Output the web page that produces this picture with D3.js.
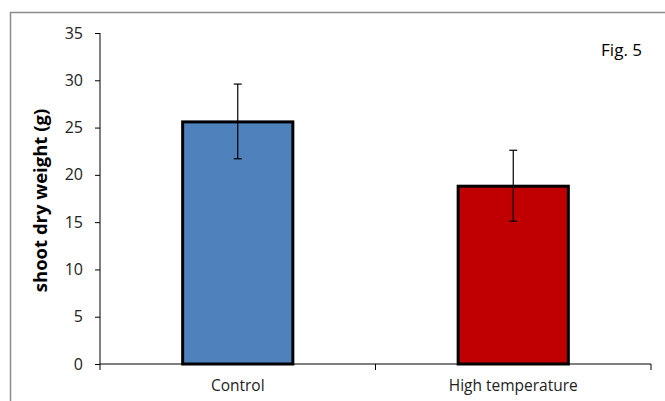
<!DOCTYPE html>
<html>
<head>
<meta charset="utf-8">
<script src="https://cdn.jsdelivr.net/npm/d3@7"></script>
<style>
  body { margin: 0; background: #fff; }
  svg { display: block; font-family: "Open Sans", sans-serif; }
</style>
</head>
<body>
<div id="chart"></div>
<script>
// data
const categories = ["Control", "High temperature"];
const means = [25.6, 18.8];
const errLow = [21.7, 15.1];
const errHigh = [29.6, 22.6];
const barColors = ["#4f81bd", "#c00000"];
const yTicks = [0, 5, 10, 15, 20, 25, 30, 35];

const width = 665, height = 401;
const margin = { top: 33, right: 14, bottom: 37, left: 100 };

const svg = d3.select("#chart")
    .append("svg")
    .attr("width", width)
    .attr("height", height);

// outer frame (right/bottom edges fall outside the crop)
svg.append("rect")
    .attr("x", 10.5).attr("y", 12.5)
    .attr("width", 700).attr("height", 500)
    .attr("fill", "none")
    .attr("stroke", "#8c8c8c")
    .attr("stroke-width", 1.5);

const x = d3.scaleBand()
    .domain(categories)
    .range([margin.left, width - margin.right])
    .padding(0);

const y = d3.scaleLinear()
    .domain([0, 35])
    .range([height - margin.bottom, margin.top]);

// y axis
const yAxis = svg.append("g")
    .attr("transform", `translate(${margin.left},0)`)
    .call(d3.axisLeft(y).tickValues(yTicks).tickSize(5).tickPadding(12));
yAxis.attr("font-family", null).attr("font-size", null);
yAxis.select(".domain").attr("stroke", "#000").attr("d", `M0,${y(35)}V${y(0)}`);
yAxis.selectAll(".tick line").attr("stroke", "#000");
yAxis.selectAll(".tick text")
    .attr("fill", "#222")
    .style("font-size", "16px");

// bars
const barW = x.bandwidth() * 0.4;
svg.append("g")
    .selectAll("rect")
    .data(categories)
    .enter().append("rect")
    .attr("x", d => x(d) + (x.bandwidth() - barW) / 2)
    .attr("y", (d, i) => y(means[i]))
    .attr("width", barW)
    .attr("height", (d, i) => y(0) - y(means[i]))
    .attr("fill", (d, i) => barColors[i])
    .attr("stroke", "#000")
    .attr("stroke-width", 3);

// x axis
const xAxis = svg.append("g")
    .attr("transform", `translate(0,${y(0)})`);
xAxis.append("line")
    .attr("x1", margin.left).attr("x2", width - margin.right)
    .attr("stroke", "#000");
const xBounds = [margin.left, ...categories.map(c => x(c) + x.bandwidth())];
xAxis.selectAll(".xtick")
    .data(xBounds)
    .enter().append("line")
    .attr("x1", d => d).attr("x2", d => d)
    .attr("y1", 0).attr("y2", 6)
    .attr("stroke", "#000");
xAxis.selectAll(".xlabel")
    .data(categories)
    .enter().append("text")
    .attr("x", d => x(d) + x.bandwidth() / 2)
    .attr("y", 27)
    .attr("text-anchor", "middle")
    .attr("fill", "#222")
    .style("font-size", "15.5px")
    .text(d => d);

// error bars
const eb = svg.append("g").attr("stroke", "#000").attr("stroke-width", 1.2);
categories.forEach((c, i) => {
    const cx = x(c) + x.bandwidth() / 2;
    eb.append("line").attr("x1", cx).attr("x2", cx)
        .attr("y1", y(errLow[i])).attr("y2", y(errHigh[i]));
    [errLow[i], errHigh[i]].forEach(v => {
        eb.append("line").attr("x1", cx - 4).attr("x2", cx + 4)
            .attr("y1", y(v)).attr("y2", y(v));
    });
});

// y title
svg.append("text")
    .attr("transform", `translate(47,${(y(0) + y(35)) / 2 + 2}) rotate(-90)`)
    .attr("text-anchor", "middle")
    .attr("fill", "#000")
    .style("font-size", "18.5px")
    .style("font-weight", "bold")
    .text("shoot dry weight (g)");

// figure tag
svg.append("text")
    .attr("x", 642).attr("y", 56)
    .attr("text-anchor", "end")
    .attr("fill", "#000")
    .style("font-size", "17px")
    .text("Fig. 5");
</script>
</body>
</html>
